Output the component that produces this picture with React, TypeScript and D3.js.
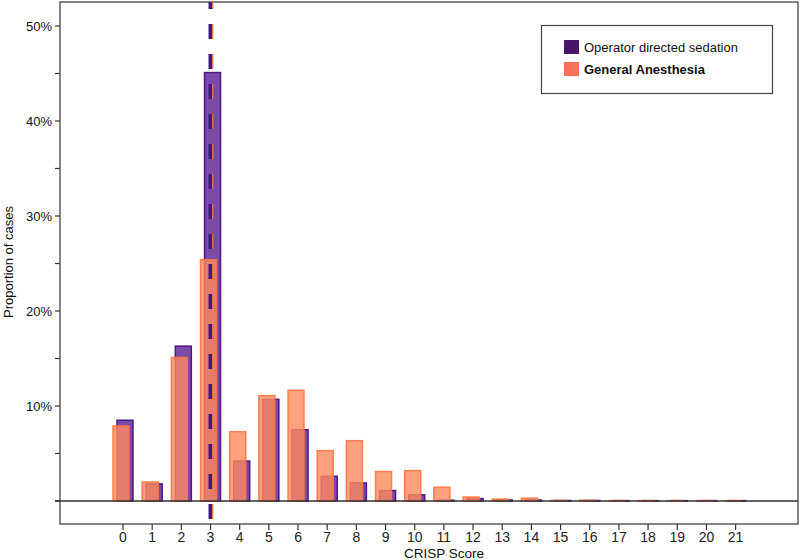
import React from "react";
import * as d3 from "d3";

const scores = d3.range(0, 22);
const odsValues = [8.5, 1.8, 16.3, 45.1, 4.2, 10.7, 7.5, 2.6, 1.9, 1.1, 0.65, 0.08, 0.25, 0.1, 0.1, 0.05, 0.05, 0.04, 0.04, 0.04, 0.04, 0.04];
const gaValues = [7.9, 2.0, 15.1, 25.4, 7.3, 11.1, 11.65, 5.3, 6.35, 3.1, 3.2, 1.45, 0.42, 0.2, 0.3, 0.05, 0.08, 0.04, 0.04, 0.04, 0.04, 0.04];
const yMajorTicks = [10, 20, 30, 40, 50];
const yMinorTicks = [0, 5, 15, 25, 35, 45];
const seriesNames = ["Operator directed sedation", "General Anesthesia"];
const medianScore = 3;

const W = 800;
const H = 560;
const frame = { left: 60, right: 798, top: 2, bottom: 524 };

export default function App() {
  const x = d3.scaleLinear().domain([0, 21]).range([123, 735.6]);
  const y = d3.scaleLinear().domain([0, 50]).range([501, 26]);
  const barW = 16;
  const purpleFill = "#7b4ba8";
  const purpleStroke = "#4d1787";
  const orangeFill = "#ff8a5c";
  const orangeStroke = "#ff7440";
  const font = "Arial, 'Liberation Sans', sans-serif";

  return (
    <svg
      width={W}
      height={H}
      style={{ position: "absolute", left: 0, top: 0, background: "#fff" }}
      fontFamily={font}
    >
      <rect
        x={frame.left}
        y={frame.top}
        width={frame.right - frame.left}
        height={frame.bottom - frame.top}
        fill="none"
        stroke="#444"
        strokeWidth={1.3}
      />
      {scores.map((s, i) => (
        <rect
          key={"o" + s}
          x={x(s) + 2 - barW / 2}
          y={y(odsValues[i])}
          width={barW}
          height={y(0) - y(odsValues[i])}
          fill={purpleFill}
          stroke={purpleStroke}
          strokeWidth={1.5}
        />
      ))}
      {scores.map((s, i) => (
        <rect
          key={"g" + s}
          x={x(s) - 2 - barW / 2}
          y={y(gaValues[i])}
          width={barW}
          height={y(0) - y(gaValues[i])}
          fill={orangeFill}
          fillOpacity={0.8}
          stroke={orangeStroke}
          strokeOpacity={0.9}
          strokeWidth={1.5}
        />
      ))}
      <line x1={55} x2={frame.right} y1={y(0)} y2={y(0)} stroke="#333" strokeWidth={1.5} />
      <line
        x1={x(medianScore)}
        x2={x(medianScore)}
        y1={frame.top}
        y2={530}
        stroke="#4b137f"
        strokeWidth={4}
        strokeDasharray="15 15"
        strokeDashoffset={8}
      />
      <line
        x1={x(medianScore) + 2.3}
        x2={x(medianScore) + 2.3}
        y1={frame.top}
        y2={530}
        stroke="#ff7a48"
        strokeWidth={1.2}
        strokeDasharray="15 15"
        strokeDashoffset={8}
      />
      {yMinorTicks.map((t) => (
        <line key={"m" + t} x1={55} x2={frame.left} y1={y(t)} y2={y(t)} stroke="#333" strokeWidth={1.2} />
      ))}
      {yMajorTicks.map((t) => (
        <g key={"M" + t}>
          <line x1={55} x2={frame.left} y1={y(t)} y2={y(t)} stroke="#333" strokeWidth={1.2} />
          <text x={52} y={y(t)} dy="0.35em" textAnchor="end" fontSize={13} fill="#111">
            {t + "%"}
          </text>
        </g>
      ))}
      {scores.map((s) => (
        <g key={"x" + s}>
          <line x1={x(s)} x2={x(s)} y1={frame.bottom} y2={530} stroke="#333" strokeWidth={1.2} />
          <text x={x(s)} y={542} textAnchor="middle" fontSize={14} fill="#222">
            {s}
          </text>
        </g>
      ))}
      <text x={444} y={558} textAnchor="middle" fontSize={13.5} fill="#111">
        CRISP Score
      </text>
      <text
        transform={`translate(13, 262) rotate(-90)`}
        textAnchor="middle"
        fontSize={13}
        fill="#111"
      >
        Proportion of cases
      </text>
      <rect x={541.5} y={25.5} width={231} height={68} fill="#fff" stroke="#444" strokeWidth={1.2} />
      <rect x={564} y={40} width={15} height={14} fill="#4b1569" />
      <rect x={564} y={62} width={15} height={14} fill="#f4735a" />
      <text x={584} y={52} fontSize={13} fill="#111">
        {seriesNames[0]}
      </text>
      <text x={584} y={74} fontSize={13} fontWeight="bold" fill="#111">
        {seriesNames[1]}
      </text>
    </svg>
  );
}
